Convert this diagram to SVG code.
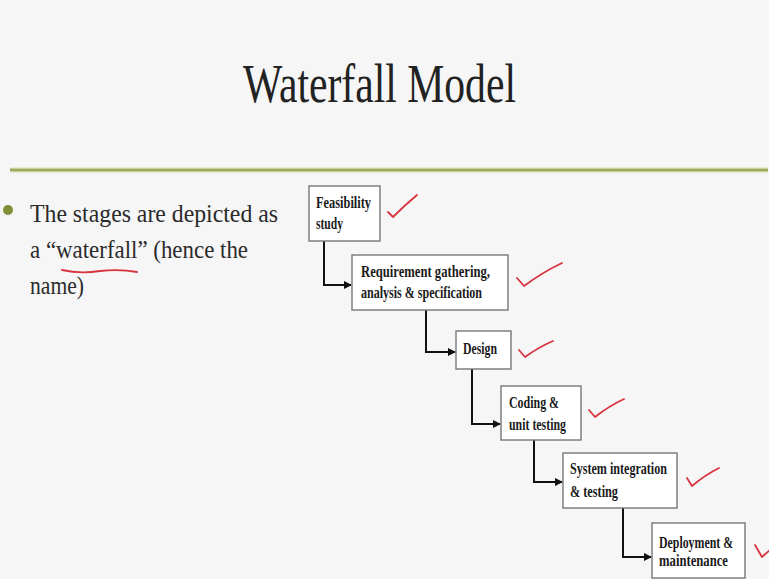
<svg xmlns="http://www.w3.org/2000/svg" width="769" height="579" viewBox="0 0 769 579">
<defs>
<marker id="ah" markerWidth="8" markerHeight="8" refX="7" refY="4" orient="auto" markerUnits="userSpaceOnUse">
<path d="M0,0 L8,4 L0,8 Z" fill="#111"/>
</marker>
</defs>
<style>
.box{fill:#fff;stroke:#777;stroke-width:1.4}
.bt{font-family:"Liberation Serif","DejaVu Serif",serif;font-weight:bold;font-size:16px;fill:#1a1a1a}
.body{font-family:"Liberation Serif","DejaVu Serif",serif;font-size:26px;fill:#2a2a2a}
.title{font-family:"Liberation Serif","DejaVu Serif",serif;font-size:54px;fill:#222}
.con{fill:none;stroke:#111;stroke-width:2}
.chk{fill:none;stroke:#d8343f;stroke-width:1.8;stroke-linecap:round;stroke-linejoin:round}
</style>
<rect width="769" height="579" fill="#f6f6f6"/>
<text class="title" x="243" y="102" textLength="273" lengthAdjust="spacingAndGlyphs">Waterfall Model</text>
<line x1="10" y1="170" x2="768" y2="170" stroke="#d7dfb8" stroke-width="5"/>
<line x1="10" y1="170" x2="768" y2="170" stroke="#9aab5c" stroke-width="2.5"/>
<circle cx="8" cy="210" r="5" fill="#7f8f3a"/>
<text class="body" x="30" y="222" textLength="248" lengthAdjust="spacingAndGlyphs">The stages are depicted as</text>
<text class="body" x="30" y="258" textLength="218" lengthAdjust="spacingAndGlyphs">a “waterfall” (hence the</text>
<text class="body" x="30" y="294" textLength="54" lengthAdjust="spacingAndGlyphs">name)</text>
<path class="chk" d="M62,270 Q80,274 100,271 Q120,269 137,272"/>
<g id="connectors">
<path class="con" d="M324,241 V285 H351" marker-end="url(#ah)"/>
<path class="con" d="M426,310 V352 H455" marker-end="url(#ah)"/>
<path class="con" d="M472,369 V424 H500" marker-end="url(#ah)"/>
<path class="con" d="M534,440 V482 H562" marker-end="url(#ah)"/>
<path class="con" d="M623,508 V557 H651" marker-end="url(#ah)"/>
</g>
<g id="n1">
<rect class="box" x="309" y="186" width="71" height="55"/>
<text class="bt" x="316" y="208" textLength="55" lengthAdjust="spacingAndGlyphs">Feasibility</text>
<text class="bt" x="316" y="229" textLength="27" lengthAdjust="spacingAndGlyphs">study</text>
</g>
<g id="n2">
<rect class="box" x="352" y="255" width="156" height="55"/>
<text class="bt" x="361" y="277" textLength="129" lengthAdjust="spacingAndGlyphs">Requirement gathering,</text>
<text class="bt" x="361" y="298" textLength="121" lengthAdjust="spacingAndGlyphs">analysis &amp; specification</text>
</g>
<g id="n3">
<rect class="box" x="456" y="331" width="55" height="38"/>
<text class="bt" x="463" y="354" textLength="34" lengthAdjust="spacingAndGlyphs">Design</text>
</g>
<g id="n4">
<rect class="box" x="501" y="386" width="80" height="54"/>
<text class="bt" x="509" y="408" textLength="50" lengthAdjust="spacingAndGlyphs">Coding &amp;</text>
<text class="bt" x="509" y="430" textLength="57" lengthAdjust="spacingAndGlyphs">unit testing</text>
</g>
<g id="n5">
<rect class="box" x="563" y="453" width="114" height="55"/>
<text class="bt" x="570" y="474" textLength="97" lengthAdjust="spacingAndGlyphs">System integration</text>
<text class="bt" x="570" y="497" textLength="48" lengthAdjust="spacingAndGlyphs">&amp; testing</text>
</g>
<g id="n6">
<rect class="box" x="652" y="523" width="93" height="55"/>
<text class="bt" x="659" y="548" textLength="74" lengthAdjust="spacingAndGlyphs">Deployment &amp;</text>
<text class="bt" x="659" y="566" textLength="69" lengthAdjust="spacingAndGlyphs">maintenance</text>
</g>
<g id="ticks">
<path class="chk" d="M388,212 L393,217 Q405,205 417,195"/>
<path class="chk" d="M517,278 L524,286 Q543,272 562,263"/>
<path class="chk" d="M519,350 L525,357 Q539,347 553,341"/>
<path class="chk" d="M589,410 L595,417 Q609,406 624,399"/>
<path class="chk" d="M687,478 L692,486 Q705,475 719,468"/>
<path class="chk" d="M755,545 L762,557 Q766,553 770,550"/>
</g>
</svg>
